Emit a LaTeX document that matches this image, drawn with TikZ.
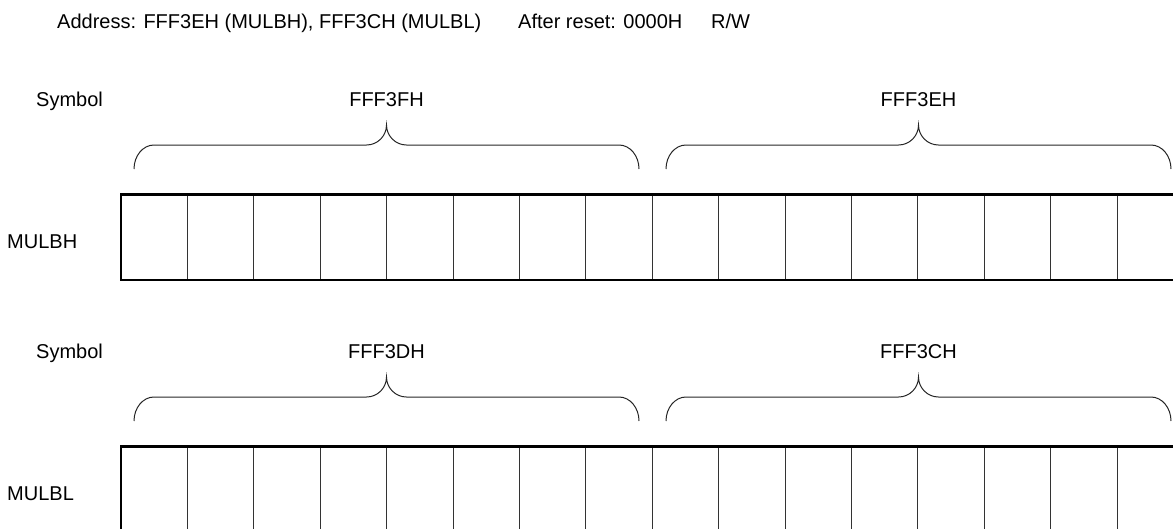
\documentclass[tikz,border=0pt]{standalone}
\usepackage{fontspec}
\setmainfont{Liberation Sans}
\begin{document}
\begin{tikzpicture}[x=1pt,y=-1pt,
  lbl/.style={inner sep=0pt,font=\fontsize{20}{24}\selectfont},
  regbox/.style={draw=black,line width=2.5pt},
  cellline/.style={draw=black!80,line width=1pt},
  bracestyle/.style={draw=black!85,line width=1pt}]
\useasboundingbox (0,0) rectangle (1173,528);
% header
\node[lbl,anchor=base west] (addr) at (57,28) {Address: FFF3EH (MULBH), FFF3CH (MULBL)};
\node[lbl,anchor=base west] (reset) at (518,28) {After reset: 0000H};
\node[lbl,anchor=base west] (rw) at (711,28) {R/W};
% register rows
\foreach \row/\off/\hi/\lo/\name in {0/0/FFF3FH/FFF3EH/MULBH, 1/252/FFF3DH/FFF3CH/MULBL}{
  \node[lbl,anchor=base west] (sym\row) at (36,106+\off) {Symbol};
  \node[lbl,anchor=base] (hi\row) at (386.5,106+\off) {\hi};
  \node[lbl,anchor=base] (lo\row) at (918.5,106+\off) {\lo};
  \node[lbl,anchor=base west] (name\row) at (7,248+\off) {\name};
  % braces
  \foreach \a/\b in {134/639,666/1171}{
    \pgfmathsetmacro{\m}{(\a+\b)/2}
    \draw[bracestyle] (\a,169+\off) .. controls (\a,155.8+\off) and (\a+9,145+\off) .. (\a+20,145+\off)
      -- (\m-20,145+\off) .. controls (\m-9,145+\off) and (\m,136+\off) .. (\m,125+\off)
      .. controls (\m,136+\off) and (\m+9,145+\off) .. (\m+20,145+\off)
      -- (\b-20,145+\off) .. controls (\b-9,145+\off) and (\b,155.8+\off) .. (\b,169+\off);
  }
  % cells
  \foreach \k in {1,...,15}{
    \draw[cellline] (121+\k*66.4,194.7+\off) -- (121+\k*66.4,280+\off);
  }
  \draw[regbox] (1190,194.7+\off) -- (121,194.7+\off) -- (121,280+\off) -- (1190,280+\off);
}
\end{tikzpicture}
\end{document}
